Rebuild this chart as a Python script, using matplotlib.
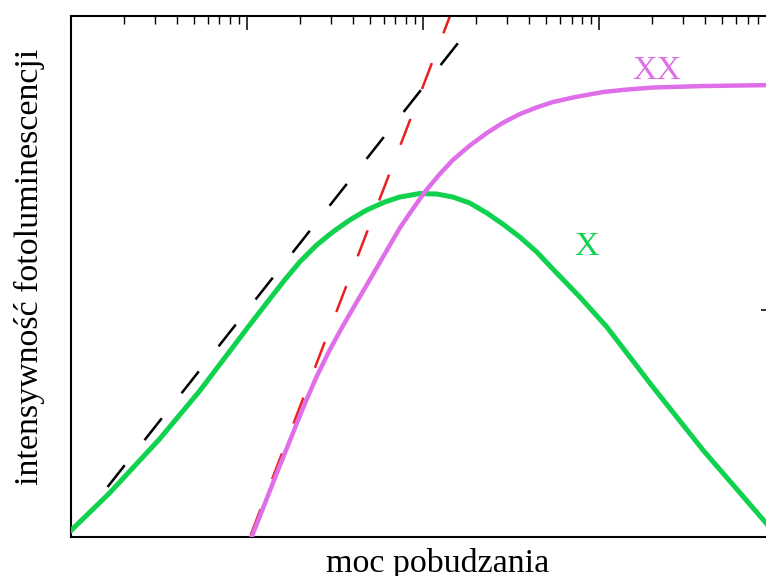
import matplotlib
matplotlib.use('Agg')
import matplotlib.pyplot as plt

# Exciton (X) line: excitation power vs PL intensity (arb. units, log-log)
x_power     = [1.0, 1.666, 3.204, 5.407, 7.499, 10.40, 12.99, 16.44, 20.01, 24.99,
               30.81, 38.48, 48.07, 60.83, 74.02, 96.15, 120.1, 148.1, 184.9, 231.0,
               284.8, 355.7, 444.4, 547.8, 779.8, 1110, 2027, 3899, 8889, 10000]
x_intensity = [1.063, 1.562, 2.702, 4.397, 6.145, 8.588, 10.74, 13.56, 16.28, 19.34,
               22.06, 24.91, 27.58, 29.91, 31.46, 32.60, 32.44, 31.46, 29.61, 26.75,
               23.92, 20.97, 18.01, 15.16, 11.41, 8.417, 4.579, 2.417, 1.153, 1.031]

# Biexciton (XX) line
xx_power     = [10.68, 15.40, 21.36, 24.99, 29.62, 34.65, 38.48, 48.07, 60.83, 74.02,
                86.60, 102.6, 124.9, 148.1, 184.9, 231.0, 284.8, 355.7, 444.4, 547.8,
                730.5, 1054, 1405, 2027, 3899, 10000]
xx_intensity = [1.0, 2.055, 3.854, 5.094, 6.664, 8.332, 9.603, 12.89, 17.65, 22.97,
                27.44, 33.10, 39.72, 45.79, 53.04, 60.22, 66.78, 73.02, 78.15, 82.46,
                86.68, 91.27, 93.43, 95.54, 97.0, 98.0]

# Guides: linear (black) and quadratic (red) dependence
lin_power      = [1.623, 168.8]
lin_intensity  = [1.661, 159.5]
quad_power     = [10.54, 144.2]
quad_intensity = [1.020, 201.4]

x_label = 'moc pobudzania'
y_label = 'intensywność fotoluminescencji'

GREEN = '#10d24f'
PINK  = '#de6fe8'


def plot_chart() :
	plt.rcParams['font.family'] = ['Liberation Serif', 'DejaVu Serif']
	plt.rcParams['lines.scale_dashes'] = False

	fig = plt.figure(figsize = (7.66, 5.76), dpi = 100)
	ax  = fig.add_axes([70.5 / 766, 39 / 576, 704.5 / 766, 521 / 576])

	ax.set_xscale('log')
	ax.set_yscale('log')
	ax.set_xlim(1, 1e4)
	ax.set_ylim(1, 197.4)

	# Dashed guide lines
	ax.plot(lin_power, lin_intensity, color = 'black', lw = 1.8, dashes = (20, 23))
	ax.plot(quad_power, quad_intensity, color = '#e82020', lw = 1.8, dashes = (20, 23))

	# Emission lines
	ax.plot(x_power, x_intensity, color = GREEN, lw = 3.6, zorder = 3,
	        solid_joinstyle = 'round')
	ax.plot(xx_power, xx_intensity, color = PINK, lw = 3.2, zorder = 3,
	        solid_joinstyle = 'round')

	# Ticks only on top (and one on the right), pointing inwards, no labels
	ax.set_yticks([10])
	ax.tick_params(which = 'both', direction = 'in', top = True, bottom = False,
	               left = False, right = True, labelbottom = False, labelleft = False)
	ax.tick_params(which = 'major', length = 10, width = 1.1)
	ax.tick_params(which = 'minor', length = 5.8, width = 1.0)
	ax.tick_params(axis = 'y', which = 'minor', right = False)

	for spine in ax.spines.values() :
		spine.set_linewidth(1.5)

	fig.text(657 / 766, 1 - 79 / 576, 'XX', color = PINK, fontsize = 24.5,
	         ha = 'center', va = 'baseline')
	fig.text(586.5 / 766, 1 - 255 / 576, 'X', color = GREEN, fontsize = 24.5,
	         ha = 'center', va = 'baseline')

	fig.text(438 / 766, 4 / 576, x_label, fontsize = 24.5, ha = 'center', va = 'baseline')
	fig.text(29 / 766, 1 - 267 / 576, y_label, fontsize = 24.5, rotation = 90,
	         ha = 'center', va = 'center')

	fig.savefig('out.png', dpi = 100)


if __name__ == '__main__' :
	plot_chart()
